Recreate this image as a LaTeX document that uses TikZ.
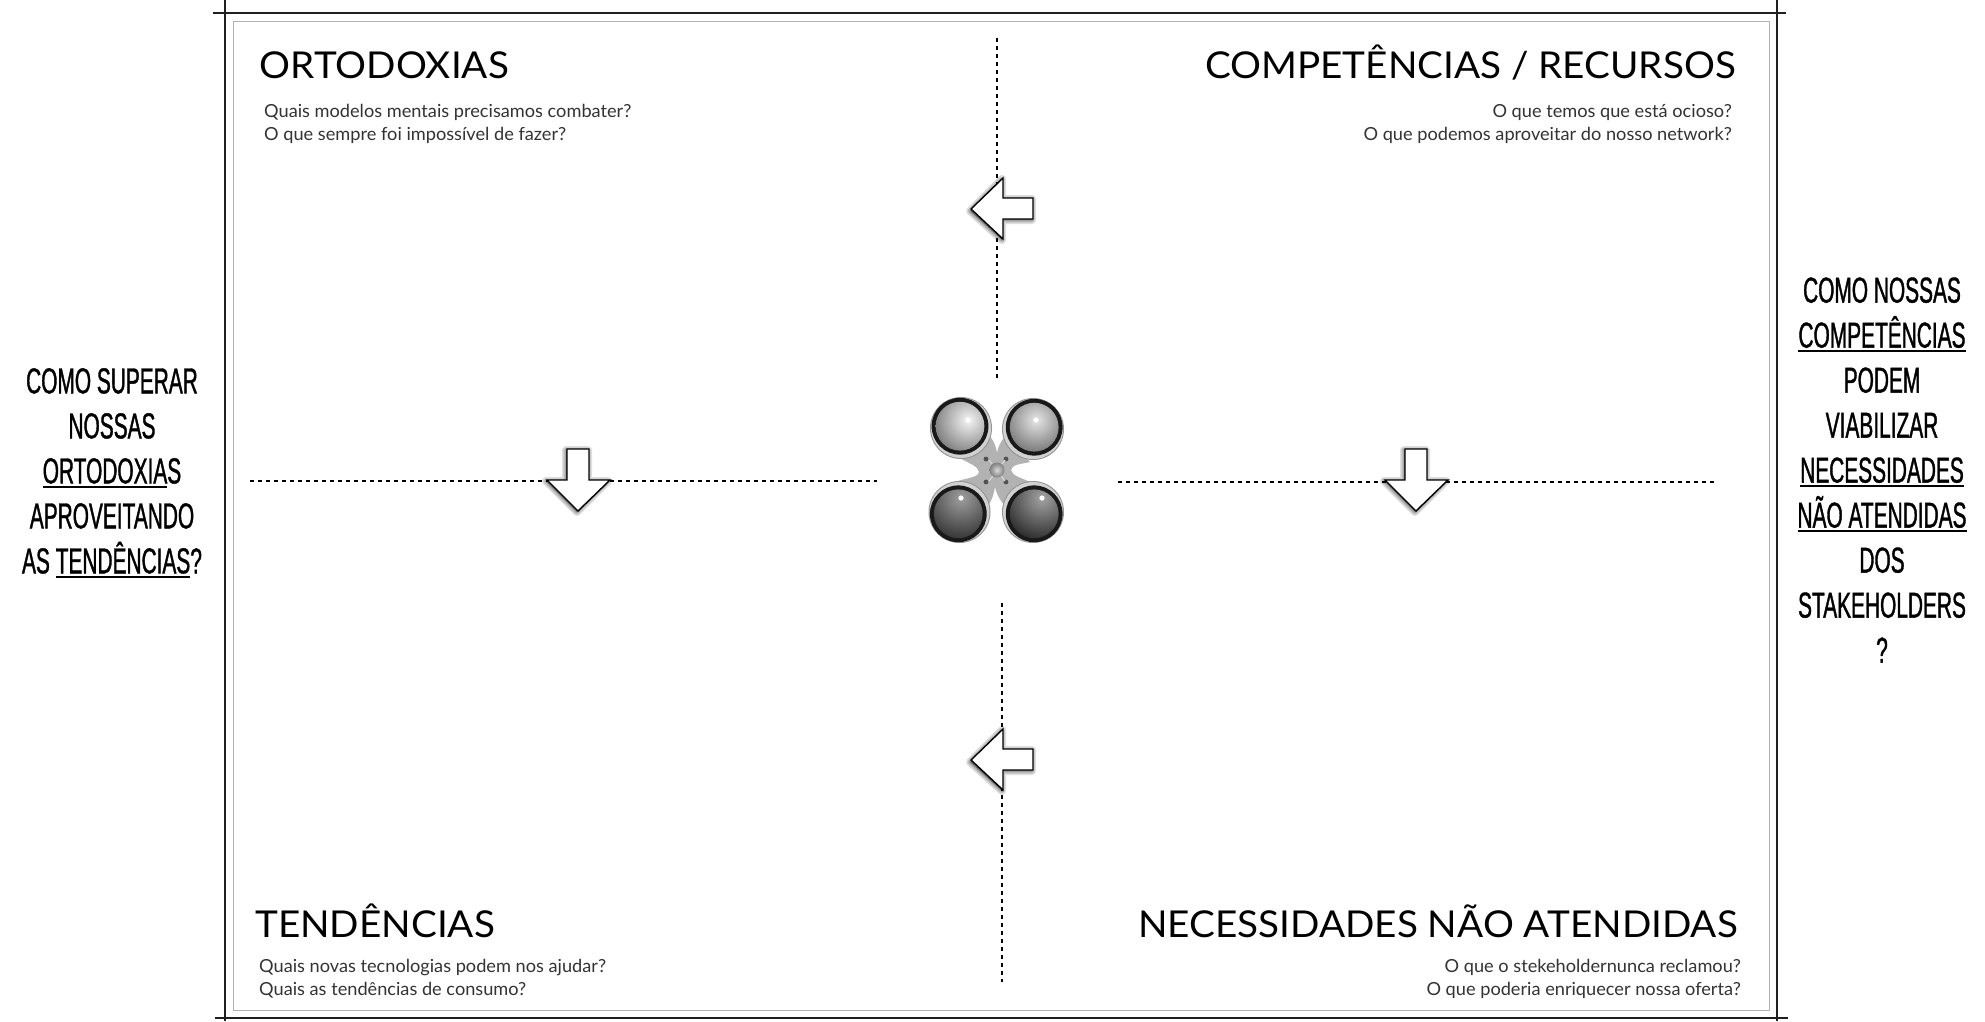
\documentclass[tikz,border=0pt]{standalone}
\usepackage{fontspec}
\setmainfont{Lato}
\newfontfamily\titlefam[FakeStretch=1.045]{Lato}
\newfontfamily\subfam[FakeStretch=1.01]{Lato}
\newfontfamily\cond[FakeStretch=0.58,FakeBold=1]{Liberation Sans}
\newcommand\ulw[1]{\setbox0\hbox{#1}\rlap{\rule[-4.5pt]{\wd0}{2.2pt}}\box0\relax}
\tikzset{
  titletext/.style={inner sep=0,font=\titlefam\fontsize{37}{37}\selectfont,text=black},
  subtext/.style={inner sep=0,font=\subfam\fontsize{18}{18}\selectfont,text=black!80},
  condtext/.style={inner sep=0,align=center,font=\cond\fontsize{36}{45}\selectfont,text=black},
  framestroke/.style={draw=black!88,line width=1.6pt},
  axis/.style={draw=black,line width=2pt,dash pattern=on 4pt off 4pt},
  blockarrow/.style={draw=black,line width=1.4pt,fill=white,line join=miter},
  arrowshade/.style={draw=black,opacity=0.13,fill=black,line join=round},
}
\newcommand\leftblock[1]{%
  \begin{scope}[shift={#1}]
    \foreach \w in {8,5,2.5}{\path[arrowshade,line width=\w pt] (-1,2)--(31,-30)--(31,-10)--(61,-10)--(61,11)--(31,11)--(31,31)--cycle;}
    \path[blockarrow] (0,0)--(32,-31)--(32,-11)--(62,-11)--(62,10)--(32,10)--(32,30)--cycle;
  \end{scope}}
\newcommand\downblock[1]{%
  \begin{scope}[shift={#1}]
    \foreach \w in {8,5,2.5}{\path[arrowshade,line width=\w pt] (-1,1)--(-32,-30)--(-12,-30)--(-12,-61)--(10,-61)--(10,-30)--(30,-30)--cycle;}
    \path[blockarrow] (0,0)--(-31,-31)--(-11,-31)--(-11,-62)--(11,-62)--(11,-31)--(32,-31)--cycle;
  \end{scope}}
\newcommand\lens[8]{%
  \fill[black!42] (#1,#2) circle (31);
  \fill[black!18] (#1,#2) circle (30);
  \fill[black!90] (#1+#3,#2+#4) circle (28.4);
  \begin{scope}
    \clip (#1+#3,#2+#4) circle (24.4);
    \shade[inner color=#7,outer color=#8] (#5,#6) circle (42);
  \end{scope}
  \fill[white] (#5,#6) circle (2.6);}
\begin{document}
\begin{tikzpicture}[x=1pt,y=-1pt]
\useasboundingbox (0,0) rectangle (1985,1021);
\fill[white] (0,0) rectangle (1985,1021);
% frame
\draw[black!30,line width=1pt] (233,21) rectangle (1769,1010);
\draw[framestroke] (225,0)--(225,1021);
\draw[framestroke] (1777,0)--(1777,1021);
\draw[framestroke,line width=1.6pt] (213,13)--(1786,13);
\draw[framestroke,line width=1.6pt] (215,1018)--(1788,1018);
\draw[framestroke,line width=2.6pt] (240,13)--(640,13);
\draw[framestroke,line width=2.6pt] (1000,13)--(1500,13);
\draw[framestroke,line width=2.6pt] (300,1018)--(700,1018);
\draw[framestroke,line width=2.6pt] (1300,1018)--(1700,1018);
% axes
\coordinate (vta) at (997,38);
\coordinate (vtb) at (997,380);
\coordinate (vba) at (1002,603);
\coordinate (vbb) at (1002,982);
\coordinate (hla) at (250,481);
\coordinate (hlb) at (877,481);
\coordinate (hra) at (1118,482);
\coordinate (hrb) at (1716,482);
\draw[axis] (vta)--(vtb);
\draw[axis] (vba)--(vbb);
\draw[axis] (hla)--(hlb);
\draw[axis] (hra)--(hrb);
% arrows
\leftblock{(971,209)}
\leftblock{(971,760)}
\downblock{(578,511)}
\downblock{(1416,511)}
% central emblem
\fill[black!30] (997,453)
  .. controls (998,446) and (1001,442) .. (1005,436)
  -- (1030,462)
  .. controls (1022,464) and (1012,464) .. (1011,470)
  .. controls (1012,476) and (1022,478) .. (1030,482)
  -- (1005,506)
  .. controls (1000,500) and (996,494) .. (995,486)
  .. controls (994,494) and (992,500) .. (988,506)
  -- (955,482)
  .. controls (965,478) and (978,478) .. (979,472)
  .. controls (978,466) and (970,464) .. (960,458)
  -- (990,436)
  .. controls (994,442) and (996,446) .. (997,453) -- cycle;
\lens{961}{428}{-1}{-1.8}{968}{420}{black!4}{black!60}
\lens{1033}{429}{1.2}{-1.8}{1036}{420}{black!10}{black!65}
\lens{959.5}{512}{-1.2}{1.8}{961}{498}{black!38}{black!80}
\lens{1033}{512}{1.2}{1.8}{1042}{498}{black!36}{black!82}
\foreach \dx/\dy in {986/459,1006/459,986/482,1006/482}{\fill[black!68] (\dx,\dy) circle (2.4);}
\draw[black!15,line width=1pt] (989,460)--(1005,481) (1005,460)--(989,481);
\shade[inner color=black!15,outer color=black!50] (997,470) circle (7.5);
% titles
\node[titletext,anchor=base west] (ort) at (259.5,78) {ORTODOXIAS};
\node[titletext,anchor=base east] (comp) at (1736,78) {COMPETÊNCIAS / RECURSOS};
\node[titletext,anchor=base west] (tend) at (255,937) {TENDÊNCIAS};
\node[titletext,anchor=base east] (nec) at (1738,937) {NECESSIDADES NÃO ATENDIDAS};
% questions
\node[subtext,anchor=base west] (q1) at (264,117) {Quais modelos mentais precisamos combater?};
\node[subtext,anchor=base west] (q2) at (264,140) {O que sempre foi impossível de fazer?};
\node[subtext,anchor=base east] (q3) at (1732,117) {O que temos que está ocioso?};
\node[subtext,anchor=base east] (q4) at (1732,140) {O que podemos aproveitar do nosso network?};
\node[subtext,anchor=base west] (q5) at (259,972) {Quais novas tecnologias podem nos ajudar?};
\node[subtext,anchor=base west] (q6) at (259,995) {Quais as tendências de consumo?};
\node[subtext,anchor=base east] (q7) at (1741,972) {O que o stekeholdernunca reclamou?};
\node[subtext,anchor=base east] (q8) at (1741,995) {O que poderia enriquecer nossa oferta?};
% side questions
\node[condtext] (leftq) at (112,473) {COMO SUPERAR\\NOSSAS\\\ulw{ORTODOXIA}S\\APROVEITANDO\\AS \ulw{TENDÊNCIAS}?};
\node[condtext] (rightq) at (1882,470) {COMO NOSSAS\\\ulw{COMPETÊNCIAS}\\PODEM\\VIABILIZAR\\\ulw{NECESSIDADES}\\\ulw{NÃO ATENDIDAS}\\DOS\\STAKEHOLDERS\\?};
\end{tikzpicture}
\end{document}
